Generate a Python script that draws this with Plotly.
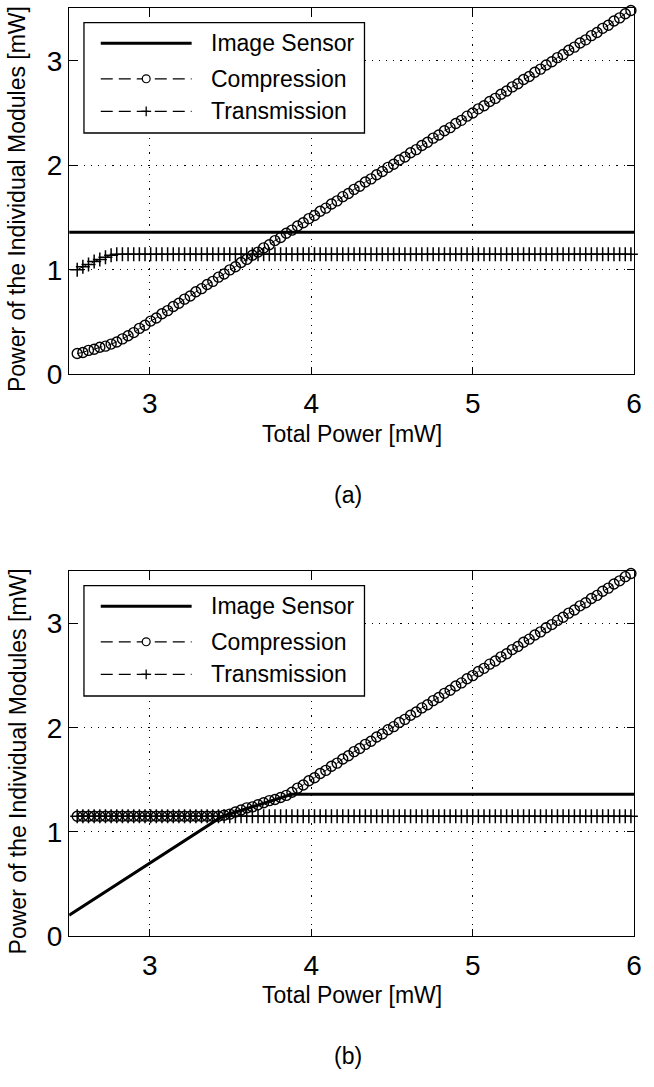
import plotly.graph_objects as go

W, H = 654, 1087

# ---------------- data ----------------
total_power = [2.55, 2.585, 2.62, 2.655, 2.69, 2.725, 2.76, 2.795, 2.83, 2.865,
               2.9, 2.935, 2.97, 3.005, 3.04, 3.075, 3.11, 3.145, 3.18, 3.215,
               3.25, 3.285, 3.32, 3.355, 3.39, 3.425, 3.46, 3.495, 3.53, 3.565,
               3.6, 3.635, 3.67, 3.705, 3.74, 3.775, 3.81, 3.845, 3.88, 3.915,
               3.95, 3.985, 4.02, 4.055, 4.09, 4.125, 4.16, 4.195, 4.23, 4.265,
               4.3, 4.335, 4.37, 4.405, 4.44, 4.475, 4.51, 4.545, 4.58, 4.615,
               4.65, 4.685, 4.72, 4.755, 4.79, 4.825, 4.86, 4.895, 4.93, 4.965,
               5.0, 5.035, 5.07, 5.105, 5.14, 5.175, 5.21, 5.245, 5.28, 5.315,
               5.35, 5.385, 5.42, 5.455, 5.49, 5.525, 5.56, 5.595, 5.63, 5.665,
               5.7, 5.735, 5.77, 5.805, 5.84, 5.875, 5.91, 5.945, 5.98]

# (a)
a_sensor_x = [2.5, 6.0]
a_sensor_y = [1.36, 1.36]
a_compression = [0.20, 0.21, 0.23, 0.24, 0.26, 0.27, 0.29, 0.31, 0.34, 0.37,
                 0.40, 0.44, 0.47, 0.51, 0.54, 0.58, 0.61, 0.65, 0.68, 0.72,
                 0.75, 0.79, 0.82, 0.86, 0.89, 0.93, 0.96, 1.00, 1.03, 1.07,
                 1.10, 1.14, 1.17, 1.21, 1.24, 1.28, 1.31, 1.35, 1.38, 1.42,
                 1.45, 1.49, 1.52, 1.56, 1.59, 1.63, 1.66, 1.70, 1.73, 1.77,
                 1.80, 1.84, 1.87, 1.91, 1.94, 1.98, 2.01, 2.05, 2.08, 2.12,
                 2.15, 2.19, 2.22, 2.26, 2.29, 2.33, 2.36, 2.40, 2.43, 2.47,
                 2.50, 2.54, 2.57, 2.61, 2.64, 2.68, 2.71, 2.75, 2.78, 2.82,
                 2.85, 2.89, 2.92, 2.96, 2.99, 3.03, 3.06, 3.10, 3.13, 3.17,
                 3.20, 3.24, 3.27, 3.31, 3.34, 3.38, 3.41, 3.45, 3.48]
a_transmission = [1.00, 1.03, 1.05, 1.08, 1.10, 1.12, 1.14, 1.15, 1.15, 1.15,
                  1.15, 1.15, 1.15, 1.15, 1.15, 1.15, 1.15, 1.15, 1.15, 1.15,
                  1.15, 1.15, 1.15, 1.15, 1.15, 1.15, 1.15, 1.15, 1.15, 1.15,
                  1.15, 1.15, 1.15, 1.15, 1.15, 1.15, 1.15, 1.15, 1.15, 1.15,
                  1.15, 1.15, 1.15, 1.15, 1.15, 1.15, 1.15, 1.15, 1.15, 1.15,
                  1.15, 1.15, 1.15, 1.15, 1.15, 1.15, 1.15, 1.15, 1.15, 1.15,
                  1.15, 1.15, 1.15, 1.15, 1.15, 1.15, 1.15, 1.15, 1.15, 1.15,
                  1.15, 1.15, 1.15, 1.15, 1.15, 1.15, 1.15, 1.15, 1.15, 1.15,
                  1.15, 1.15, 1.15, 1.15, 1.15, 1.15, 1.15, 1.15, 1.15, 1.15,
                  1.15, 1.15, 1.15, 1.15, 1.15, 1.15, 1.15, 1.15, 1.15]

# (b)
b_sensor_x = [2.5, 3.45, 3.88, 6.0]
b_sensor_y = [0.20, 1.15, 1.36, 1.36]
b_compression = [1.15, 1.15, 1.15, 1.15, 1.15, 1.15, 1.15, 1.15, 1.15, 1.15,
                 1.15, 1.15, 1.15, 1.15, 1.15, 1.15, 1.15, 1.15, 1.15, 1.15,
                 1.15, 1.15, 1.15, 1.15, 1.15, 1.15, 1.16, 1.17, 1.19, 1.21,
                 1.23, 1.24, 1.26, 1.28, 1.30, 1.31, 1.33, 1.35, 1.38, 1.42,
                 1.45, 1.49, 1.52, 1.56, 1.59, 1.63, 1.66, 1.70, 1.73, 1.77,
                 1.80, 1.84, 1.87, 1.91, 1.94, 1.98, 2.01, 2.05, 2.08, 2.12,
                 2.15, 2.19, 2.22, 2.26, 2.29, 2.33, 2.36, 2.40, 2.43, 2.47,
                 2.50, 2.54, 2.57, 2.61, 2.64, 2.68, 2.71, 2.75, 2.78, 2.82,
                 2.85, 2.89, 2.92, 2.96, 2.99, 3.03, 3.06, 3.10, 3.13, 3.17,
                 3.20, 3.24, 3.27, 3.31, 3.34, 3.38, 3.41, 3.45, 3.48]
b_transmission = [1.15, 1.15, 1.15, 1.15, 1.15, 1.15, 1.15, 1.15, 1.15, 1.15,
                  1.15, 1.15, 1.15, 1.15, 1.15, 1.15, 1.15, 1.15, 1.15, 1.15,
                  1.15, 1.15, 1.15, 1.15, 1.15, 1.15, 1.15, 1.15, 1.15, 1.15,
                  1.15, 1.15, 1.15, 1.15, 1.15, 1.15, 1.15, 1.15, 1.15, 1.15,
                  1.15, 1.15, 1.15, 1.15, 1.15, 1.15, 1.15, 1.15, 1.15, 1.15,
                  1.15, 1.15, 1.15, 1.15, 1.15, 1.15, 1.15, 1.15, 1.15, 1.15,
                  1.15, 1.15, 1.15, 1.15, 1.15, 1.15, 1.15, 1.15, 1.15, 1.15,
                  1.15, 1.15, 1.15, 1.15, 1.15, 1.15, 1.15, 1.15, 1.15, 1.15,
                  1.15, 1.15, 1.15, 1.15, 1.15, 1.15, 1.15, 1.15, 1.15, 1.15,
                  1.15, 1.15, 1.15, 1.15, 1.15, 1.15, 1.15, 1.15, 1.15]

x_ticks = [3, 4, 5, 6]
y_ticks = [0, 1, 2, 3]
series_names = ["Image Sensor", "Compression", "Transmission"]
x_title = "Total Power [mW]"
y_title = "Power of the Individual Modules [mW]"
panel_labels = ["(a)", "(b)"]

# ---------------- layout helpers ----------------
FONT = "Liberation Sans, Arial, sans-serif"
def px(x):
    return x / W
def py(y):
    return 1 - y / H

PLOT_L, PLOT_R = 70, 642
panels = [(8.6, 380), (580, 950)]  # top, bottom pixel rows of each plot area

fig = go.Figure()

DASH = "10px,6px"
marker_circle = dict(symbol="circle-open", size=10, color="black", line=dict(width=1.4, color="black"))
marker_plus = dict(symbol="cross-thin-open", size=10, color="black", line=dict(width=1.5, color="black"))

data_sets = [
    (a_sensor_x, a_sensor_y, a_compression, a_transmission),
    (b_sensor_x, b_sensor_y, b_compression, b_transmission),
]
for i, (sx, sy, comp, trans) in enumerate(data_sets):
    xa = "x" if i == 0 else "x2"
    ya = "y" if i == 0 else "y2"
    fig.add_trace(go.Scatter(x=total_power, y=trans, mode="lines+markers", name=series_names[2],
                             line=dict(color="black", width=1, dash=DASH), marker=marker_plus,
                             xaxis=xa, yaxis=ya, showlegend=False, cliponaxis=False))
    fig.add_trace(go.Scatter(x=total_power, y=comp, mode="lines+markers", name=series_names[1],
                             line=dict(color="black", width=1, dash=DASH), marker=marker_circle,
                             xaxis=xa, yaxis=ya, showlegend=False, cliponaxis=False))
    fig.add_trace(go.Scatter(x=sx, y=sy, mode="lines", name=series_names[0],
                             line=dict(color="black", width=3),
                             xaxis=xa, yaxis=ya, showlegend=False))

axis_common = dict(
    showline=True, linecolor="black", linewidth=1.3, mirror="ticks",
    ticks="inside", ticklen=7, tickwidth=1.2, tickcolor="black",
    showgrid=True, gridcolor="black", gridwidth=1.2, griddash="1.2px,6px",
    zeroline=False, tickfont=dict(family=FONT, size=28, color="black"),
)

layout = dict(
    width=W, height=H, margin=dict(l=0, r=0, t=0, b=0),
    paper_bgcolor="white", plot_bgcolor="white", showlegend=False,
)
for i, (top, bot) in enumerate(panels):
    sfx = "" if i == 0 else "2"
    layout["xaxis" + sfx] = dict(axis_common, domain=[px(PLOT_L), px(PLOT_R)], range=[2.5, 6],
                                 tickvals=x_ticks, anchor="y" + sfx, ticklabelstandoff=4)
    layout["yaxis" + sfx] = dict(axis_common, domain=[py(bot), py(top)], range=[0, 3.5],
                                 tickvals=y_ticks, anchor="x" + sfx)
fig.update_layout(**layout)

# ---------------- titles, labels, legend ----------------
TXT = 23
shapes = []
annotations = []
for i, (top, bot) in enumerate(panels):
    cx = (PLOT_L + PLOT_R) / 2
    annotations.append(dict(text=x_title, x=px(cx), y=py(bot + 60), xref="paper", yref="paper",
                            showarrow=False, font=dict(family=FONT, size=TXT, color="black"),
                            xanchor="center", yanchor="middle"))
    annotations.append(dict(text=panel_labels[i], x=px(cx - 4), y=py(bot + 122), xref="paper", yref="paper",
                            showarrow=False, font=dict(family=FONT, size=TXT, color="black"),
                            xanchor="center", yanchor="middle"))
    annotations.append(dict(text=y_title, x=px(18), y=py((top + bot) / 2 + 8), xref="paper", yref="paper",
                            showarrow=False, textangle=-90, font=dict(family=FONT, size=TXT, color="black"),
                            xanchor="center", yanchor="middle"))
    # legend box
    off = top - 8.6
    shapes.append(dict(type="rect", xref="paper", yref="paper", x0=px(85), x1=px(369),
                       y0=py(off + 135), y1=py(off + 23), line=dict(color="black", width=1.3),
                       fillcolor="white", layer="above"))
    rows = [off + 44, off + 80, off + 113]
    # sample lines
    shapes.append(dict(type="line", xref="paper", yref="paper", x0=px(102), x1=px(194),
                       y0=py(rows[0]), y1=py(rows[0]), line=dict(color="black", width=3)))
    for r in rows[1:]:
        shapes.append(dict(type="line", xref="paper", yref="paper", x0=px(102), x1=px(194),
                           y0=py(r), y1=py(r), line=dict(color="black", width=1.2, dash="12px,6px")))
    # circle marker sample
    shapes.append(dict(type="circle", xref="paper", yref="paper", x0=px(144), x1=px(152),
                       y0=py(rows[1] + 4), y1=py(rows[1] - 4), line=dict(color="black", width=1.2),
                       fillcolor="white"))
    # plus marker sample
    shapes.append(dict(type="line", xref="paper", yref="paper", x0=px(148), x1=px(148),
                       y0=py(rows[2] + 5), y1=py(rows[2] - 5), line=dict(color="black", width=1.3)))
    shapes.append(dict(type="line", xref="paper", yref="paper", x0=px(143), x1=px(153),
                       y0=py(rows[2]), y1=py(rows[2]), line=dict(color="black", width=1.3)))
    for r, name in zip(rows, series_names):
        annotations.append(dict(text=name, x=px(212), y=py(r), xref="paper", yref="paper",
                                showarrow=False, font=dict(family=FONT, size=TXT, color="black"),
                                xanchor="left", yanchor="middle"))

fig.update_layout(shapes=shapes, annotations=annotations)
fig.write_html("out.html")
